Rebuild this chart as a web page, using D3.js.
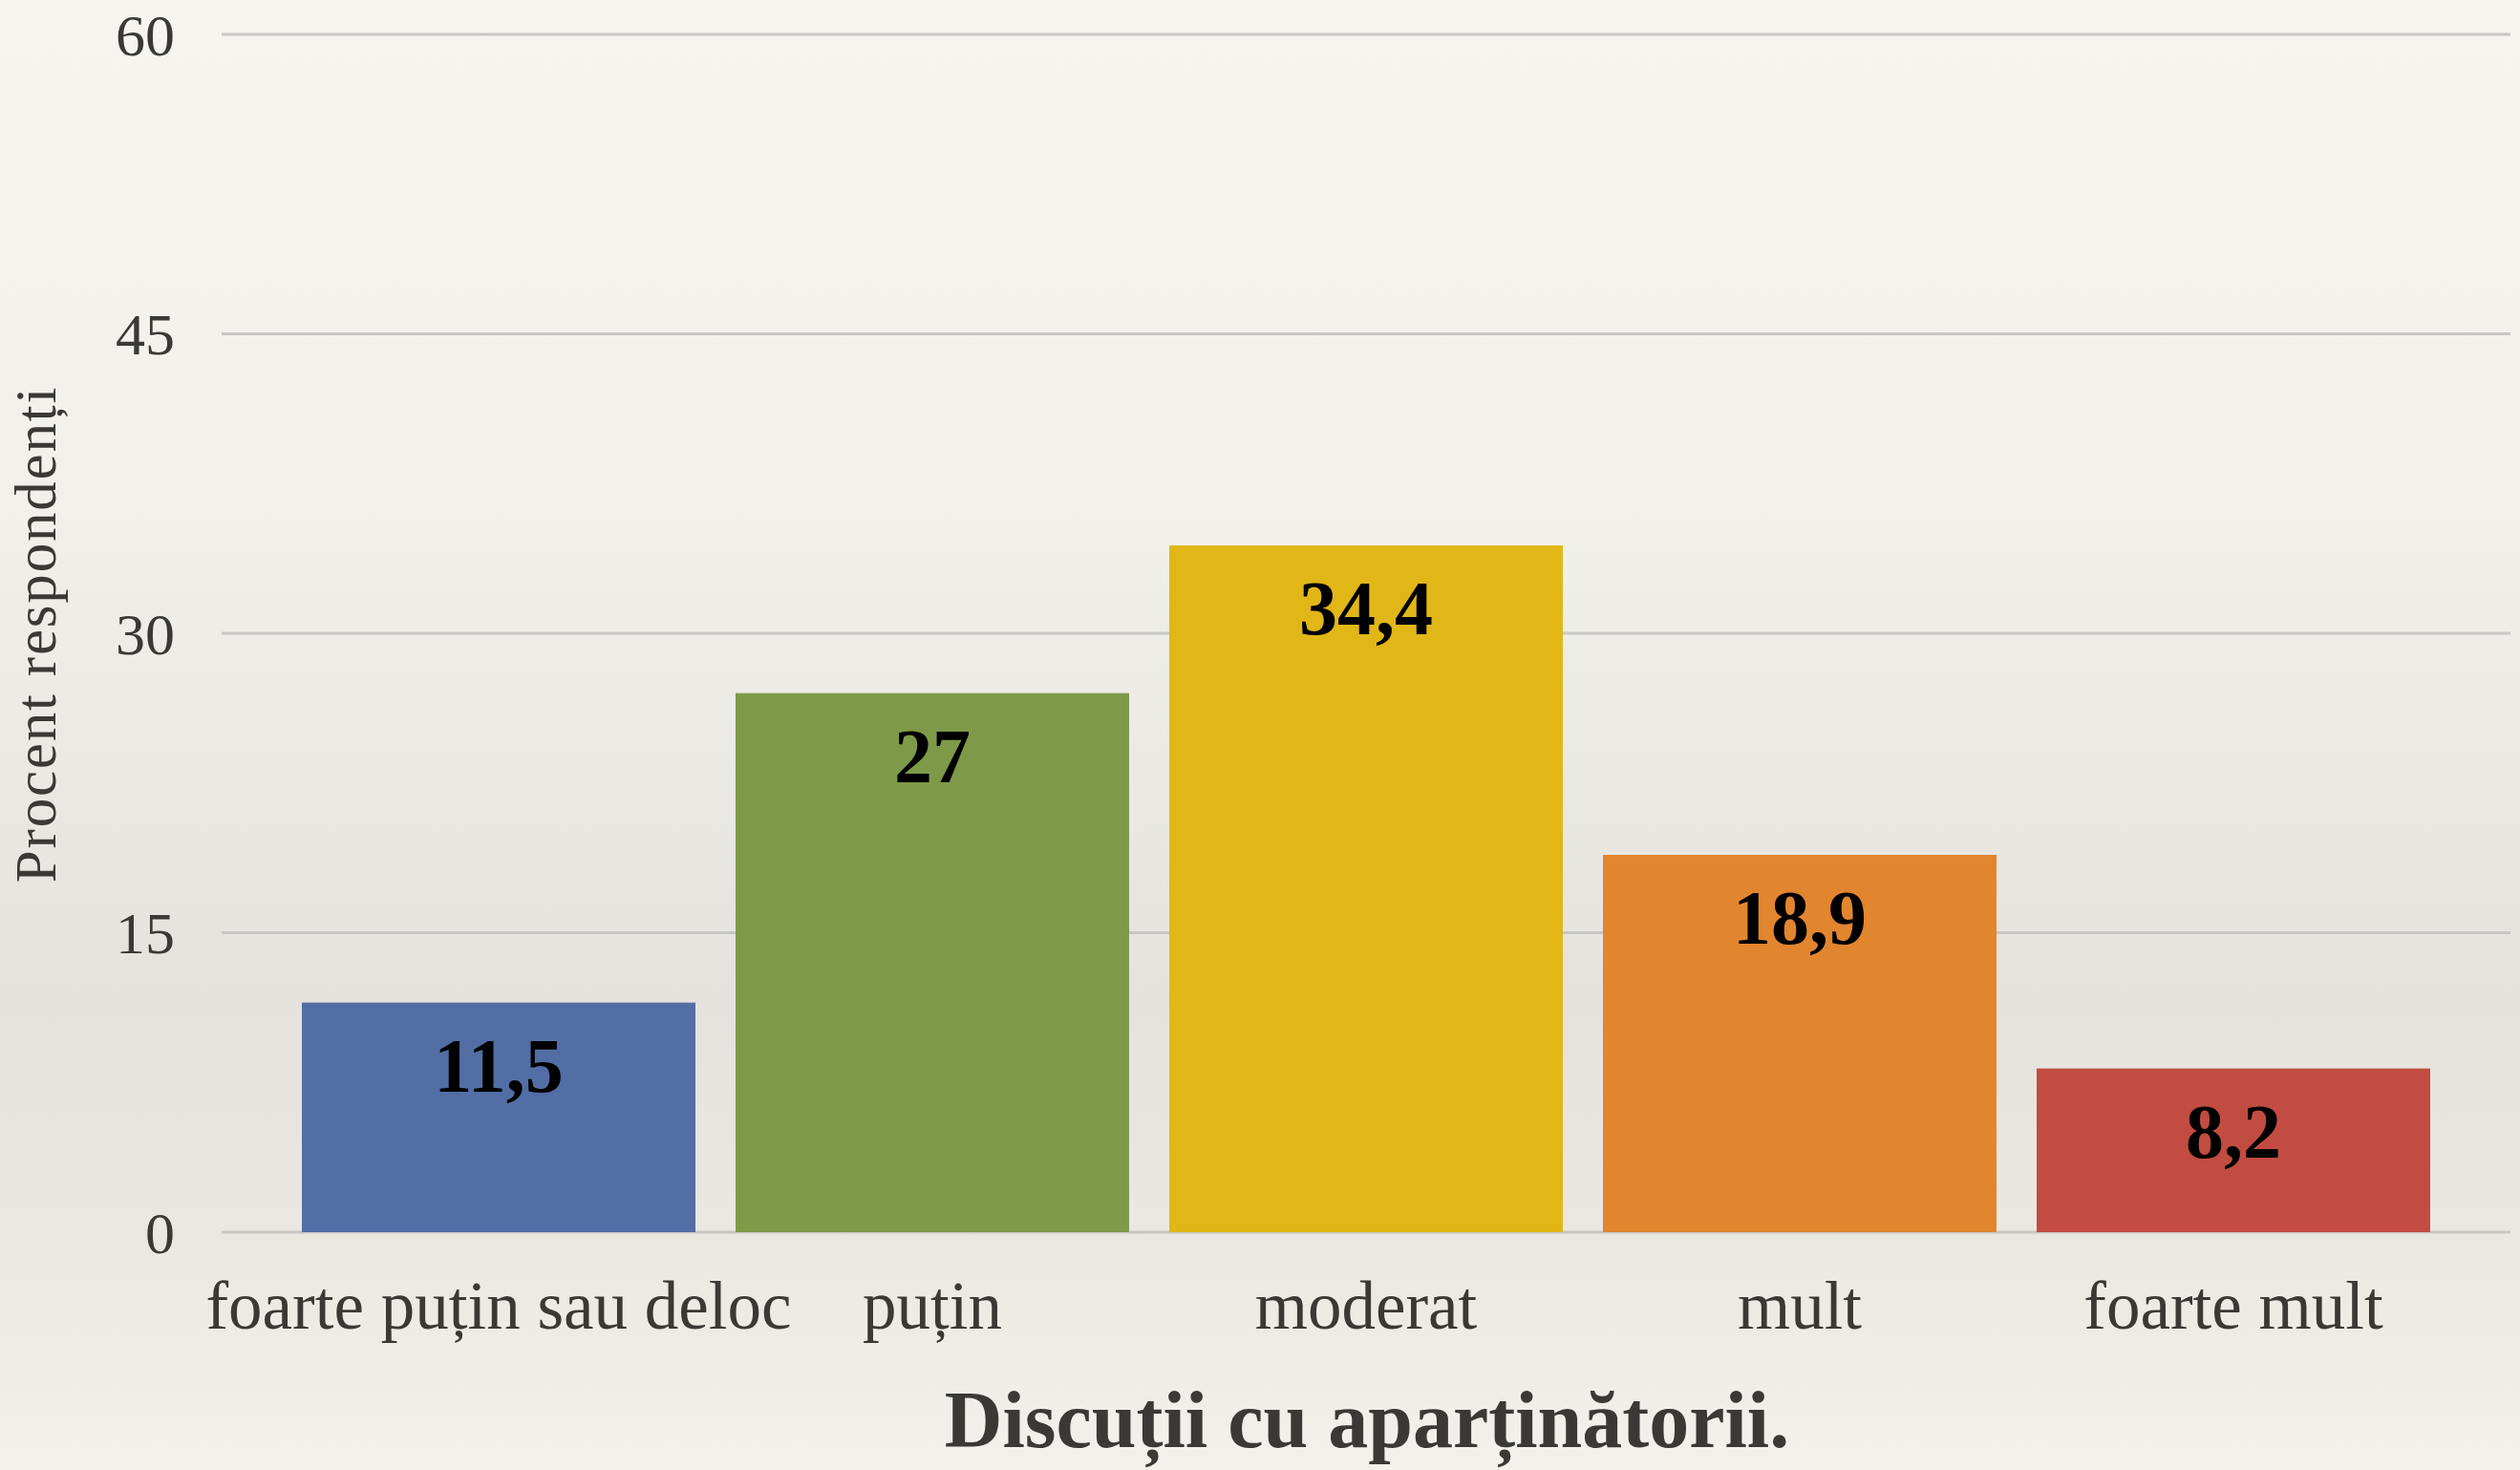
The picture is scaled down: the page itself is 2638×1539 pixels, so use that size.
<!DOCTYPE html>
<html>
<head>
<meta charset="utf-8">
<script src="https://cdn.jsdelivr.net/npm/d3@7"></script>
<style>
  html, body { margin: 0; padding: 0; overflow: hidden; }
  svg { display: block; }
</style>
</head>
<body>
<svg id="chart" width="2638" height="1539"></svg>
<script>
const categories = ["foarte puțin sau deloc", "puțin", "moderat", "mult", "foarte mult"];
const values = [11.5, 27, 34.4, 18.9, 8.2];
const valueLabels = ["11,5", "27", "34,4", "18,9", "8,2"];
const barColors = ["#526ea4", "#7e9a48", "#e1b717", "#e2852f", "#c24c41"];
const yTicks = [0, 15, 30, 45, 60];
const yTitle = "Procent respondenți";
const xTitle = "Discuții cu aparținătorii.";

const W = 2638, H = 1539;
const svg = d3.select("#chart");

// background
const defs = svg.append("defs");
const grad = defs.append("linearGradient").attr("id", "bg").attr("x1", 0).attr("y1", 0).attr("x2", 0).attr("y2", 1);
grad.append("stop").attr("offset", "0").attr("stop-color", "#f7f5f0");
grad.append("stop").attr("offset", "0.35").attr("stop-color", "#f2f0ea");
grad.append("stop").attr("offset", "0.68").attr("stop-color", "#e5e2dd");
grad.append("stop").attr("offset", "0.85").attr("stop-color", "#ebe8e2");
grad.append("stop").attr("offset", "1").attr("stop-color", "#f3f1eb");
svg.append("rect").attr("width", W).attr("height", H).attr("fill", "url(#bg)");

const x = d3.scaleBand().domain(categories).range([295, 2565]).paddingInner(0.0925).paddingOuter(0.04625);
const y = d3.scaleLinear().domain([0, 60]).range([1290, 36]);

const textColor = "#3a3935";
const serif = "'Liberation Serif', 'DejaVu Serif', serif";

// gridlines
svg.append("g").selectAll("line").data(yTicks).join("line")
  .attr("x1", 232).attr("x2", 2628)
  .attr("y1", d => y(d)).attr("y2", d => y(d))
  .attr("stroke", "#c9c7c4").attr("stroke-width", 3);

// y tick labels via axis
const yAxis = d3.axisLeft(y).tickValues(yTicks).tickSize(0).tickPadding(0).tickFormat(d3.format("d"));
const gy = svg.append("g").attr("transform", "translate(183,0)").call(yAxis);
gy.select(".domain").remove();
gy.selectAll("text").attr("font-family", serif).attr("font-size", 62).attr("fill", textColor).attr("dy", "0.34em");

// bars
svg.append("g").selectAll("rect").data(values).join("rect")
  .attr("x", (d, i) => x(categories[i]))
  .attr("width", x.bandwidth())
  .attr("y", d => y(d))
  .attr("height", d => y(0) - y(d))
  .attr("fill", (d, i) => barColors[i]);

// value labels
svg.append("g").selectAll("text").data(values).join("text")
  .attr("x", (d, i) => x(categories[i]) + x.bandwidth() / 2)
  .attr("y", d => y(d) + 93)
  .attr("text-anchor", "middle")
  .attr("font-family", serif).attr("font-weight", "bold").attr("font-size", 80)
  .attr("fill", "#000")
  .text((d, i) => valueLabels[i]);

// x axis category labels
const xAxis = d3.axisBottom(x).tickSize(0).tickPadding(0);
const gx = svg.append("g").attr("transform", "translate(0,1391)").call(xAxis);
gx.select(".domain").remove();
gx.selectAll("text").attr("font-family", serif).attr("font-size", 71).attr("fill", textColor).attr("dy", 0).attr("y", 0);

// axis titles
svg.append("text")
  .attr("transform", "translate(58,664) rotate(-90)")
  .attr("text-anchor", "middle")
  .attr("font-family", serif).attr("font-size", 61).attr("letter-spacing", 1.8)
  .attr("fill", textColor)
  .text(yTitle);

svg.append("text")
  .attr("x", 1431).attr("y", 1515)
  .attr("text-anchor", "middle")
  .attr("font-family", serif).attr("font-weight", "bold").attr("font-size", 84)
  .attr("fill", textColor)
  .text(xTitle);
</script>
</body>
</html>
